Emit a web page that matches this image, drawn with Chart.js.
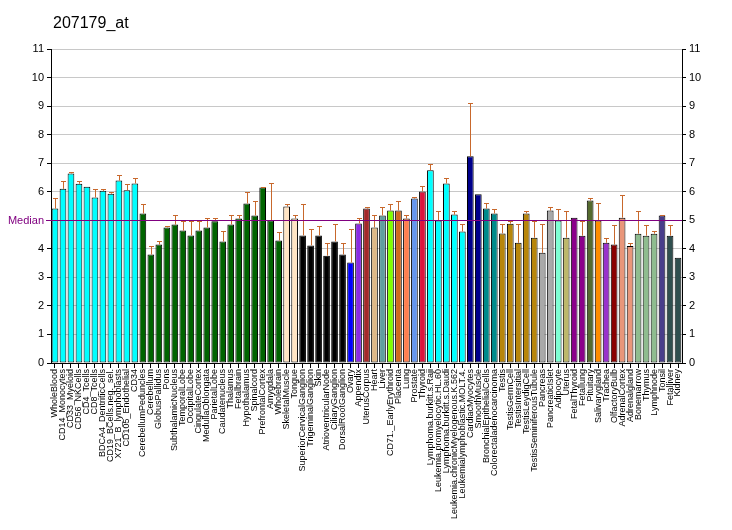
<!DOCTYPE html>
<html>
<head>
<meta charset="utf-8">
<script src="https://cdn.jsdelivr.net/npm/chart.js@4/dist/chart.umd.min.js"></script>
<style>
  body { margin: 0; background: #fff; }
  #wrap { width: 732px; height: 530px; }
</style>
</head>
<body>
<div id="wrap"><canvas id="chart" width="732" height="530"></canvas></div>
<script>
const labels = [
  'WholeBlood','CD14_Monocytes','CD33_Myeloid','CD56_NKCells','CD4_Tcells','CD8_Tcells',
  'BDCA4_DentriticCells','CD19_BCells.neg._sel.','X721_B_lymphoblasts','CD105_Endothelial','CD34',
  'CerebellumPeduncles','Cerebellum','GlobusPallidus','Pons','SubthalamicNucleus','TemporalLobe',
  'OccipitalLobe','CingulateCortex','MedullaOblongata','ParietalLobe','Caudatenucleus','Thalamus',
  'Fetalbrain','Hypothalamus','Spinalcord','PrefrontalCortex','Amygdala','Wholebrain',
  'SkeletalMuscle','Tongue','SuperiorCervicalGanglion','TrigeminalGanglion','Skin',
  'AtrioventricularNode','CiliaryGanglion','DorsalRootGanglion','Ovary','Appendix','UterusCorpus',
  'Heart','Liver','CD71._EarlyErythroid','Placenta','Lung','Prostate','Thyroid',
  'Lymphoma.burkitt.s.Raji','Leukemia.promyelocytic.HL.60','Lymphoma.burkitt.s.Daudi',
  'Leukemia.chronicMyelogenous.K.562','Leukemialymphoblastic.MOLT.4.','CardiacMyocytes',
  'SmoothMuscle','BronchialEpithelialCells','Colorectaladenocarcinoma','Testis','TestisGermCell',
  'TestisIntersitial','TestisLeydigCell','TestisSeminiferousTubule','Pancreas','PancreaticIslet',
  'Adipocyte','Uterus','FetalThyroid','Fetallung','Pituitary','Salivarygland','Trachea',
  'OlfactoryBulb','AdrenalCortex','Adrenalgland','Bonemarrow','Thymus','Lymphnode','Tonsil',
  'Fetalliver','Kidney'
];

const values = [
  5.41, 6.10, 6.64, 6.28, 6.17, 5.80, 6.03, 5.93, 6.39, 6.05, 6.29,
  5.24, 3.80, 4.15, 4.75, 4.85, 4.64, 4.47, 4.64, 4.75, 4.97, 4.26, 4.85,
  5.06, 5.59, 5.17, 6.15, 4.99, 4.29,
  5.48, 5.06, 4.47, 4.12, 4.47, 3.76, 4.26, 3.80, 3.52, 4.89, 5.41,
  4.75, 5.17, 5.34, 5.34, 5.06, 5.76, 6.01,
  6.75, 4.99, 6.29, 5.20, 4.61, 7.24,
  5.91, 5.41, 5.24, 4.54, 4.88, 4.21, 5.24, 4.39, 3.86, 5.34,
  4.99, 4.39, 5.09, 4.46, 5.69, 4.99, 4.21,
  4.15, 5.09, 4.10, 4.53, 4.46, 4.53, 5.17, 4.46, 3.69
];

const errTop = [
  5.79, 6.39, 6.70, 6.39, 6.17, 6.09, 6.09, 6.00, 6.60, 6.28, 6.49,
  5.58, 4.10, 4.28, 4.81, 5.19, 4.99, 4.99, 4.99, 5.09, 5.09, 4.61, 5.19,
  5.19, 6.00, 5.69, 6.17, 6.29, 4.60,
  5.58, 5.19, 5.58, 4.70, 4.81, 4.21, 4.88, 4.21, 4.70, 5.09, 5.48,
  5.19, 5.47, 5.58, 5.68, 5.19, 5.80, 6.19,
  6.98, 5.31, 6.49, 5.31, 4.88, 9.10,
  5.91, 5.59, 5.40, 4.88, 4.99, 4.88, 5.31, 4.99, 4.88, 5.48,
  5.40, 5.31, 5.09, 4.99, 5.79, 5.59, 4.39,
  4.82, 5.89, 4.21, 5.31, 4.82, 4.61, 5.19, 4.82, 3.69
];

const colors = [
  ...Array(11).fill('#00FFFF'),
  ...Array(18).fill('#006400'),
  '#FFE4C4', '#FFE4C4',
  ...Array(6).fill('#000000'),
  '#0000FF', '#8A2BE2', '#A52A2A', '#DEB887', '#5F9EA0', '#7FFF00', '#D2691E', '#FF7F50',
  '#6495ED', '#DC143C',
  ...Array(5).fill('#00FFFF'),
  '#00008B', '#00008B',
  '#008B8B', '#008B8B',
  ...Array(5).fill('#B8860B'),
  '#A9A9A9', '#A9A9A9',
  '#7FFFD4', '#BDB76B', '#8B008B', '#8B008B', '#556B2F', '#FF8C00', '#9932CC', '#8B0000',
  '#E9967A', '#E9967A',
  '#8FBC8F', '#8FBC8F', '#8FBC8F',
  '#483D8B', '#2F4F4F', '#2F4F4F'
];

const median = 5.0;
const title = '207179_at';

const FONT = 'Liberation Sans, Arial, sans-serif';

// error bars above each bar
const errorBars = {
  id: 'errorBars',
  afterDatasetsDraw(chart) {
    const ctx = chart.ctx;
    const y = chart.scales.y;
    const meta = chart.getDatasetMeta(0);
    ctx.save();
    ctx.strokeStyle = '#C8682C';
    ctx.lineWidth = 1;
    meta.data.forEach((bar, i) => {
      if (errTop[i] <= values[i]) return;
      const x = Math.round(bar.x) + 0.5;
      const yt = Math.round(y.getPixelForValue(errTop[i])) + 0.5;
      const yb = y.getPixelForValue(values[i]);
      ctx.beginPath();
      ctx.moveTo(x, yb);
      ctx.lineTo(x, yt);
      ctx.moveTo(x - 2.5, yt);
      ctx.lineTo(x + 2.5, yt);
      ctx.stroke();
    });
    ctx.restore();
  }
};

// median line + label, title
const extras = {
  id: 'extras',
  afterDatasetsDraw(chart) {
    const ctx = chart.ctx;
    const area = chart.chartArea;
    const yy = Math.round(chart.scales.y.getPixelForValue(median)) + 0.5;
    ctx.save();
    ctx.strokeStyle = '#800080';
    ctx.lineWidth = 1;
    ctx.beginPath();
    ctx.moveTo(area.left - 5, yy);
    ctx.lineTo(area.right, yy);
    ctx.stroke();
    ctx.fillStyle = '#800080';
    ctx.font = '11px ' + FONT;
    ctx.textAlign = 'right';
    ctx.textBaseline = 'middle';
    ctx.fillText('Median', area.left - 7, yy);
    ctx.restore();
  },
  afterDraw(chart) {
    const ctx = chart.ctx;
    ctx.save();
    ctx.fillStyle = '#000';
    ctx.font = '16px ' + FONT;
    ctx.textAlign = 'left';
    ctx.textBaseline = 'alphabetic';
    ctx.fillText(title, 53, 28);
    ctx.restore();
  }
};

const tickFont = { family: FONT, size: 11 };

new Chart(document.getElementById('chart'), {
  type: 'bar',
  data: {
    labels: labels,
    datasets: [{
      data: values,
      backgroundColor: colors,
      borderColor: '#000',
      borderWidth: 1,
      borderSkipped: false,
      categoryPercentage: 1,
      barPercentage: 0.84
    }]
  },
  options: {
    responsive: false,
    animation: false,
    devicePixelRatio: 1,
    layout: { padding: { top: 49, left: 0, right: 0, bottom: 0 } },
    plugins: {
      legend: { display: false },
      tooltip: { enabled: false },
      title: { display: false }
    },
    scales: {
      x: {
        ticks: {
          autoSkip: false,
          maxRotation: 90,
          minRotation: 90,
          color: '#000',
          font: { family: FONT, size: 9 },
          padding: 1
        },
        grid: { display: true, drawOnChartArea: false, offset: false, tickLength: 5, color: '#000' },
        border: { color: '#000' },
        afterFit: s => { s.height = 167; }
      },
      y: {
        position: 'left',
        min: 0, max: 11,
        ticks: {
          color: '#000', font: tickFont, stepSize: 1, padding: 3,
          callback: v => (v === median ? '' : v)
        },
        grid: { color: '#C8C8C8', tickColor: '#000', tickLength: 4 },
        border: { color: '#000' },
        afterFit: s => { s.width = 51; }
      },
      y2: {
        position: 'right',
        min: 0, max: 11,
        ticks: { color: '#000', font: tickFont, stepSize: 1, padding: 3 },
        grid: { drawOnChartArea: false, tickColor: '#000', tickLength: 4 },
        border: { color: '#000' },
        afterFit: s => { s.width = 50; }
      }
    }
  },
  plugins: [errorBars, extras]
});
</script>
</body>
</html>
